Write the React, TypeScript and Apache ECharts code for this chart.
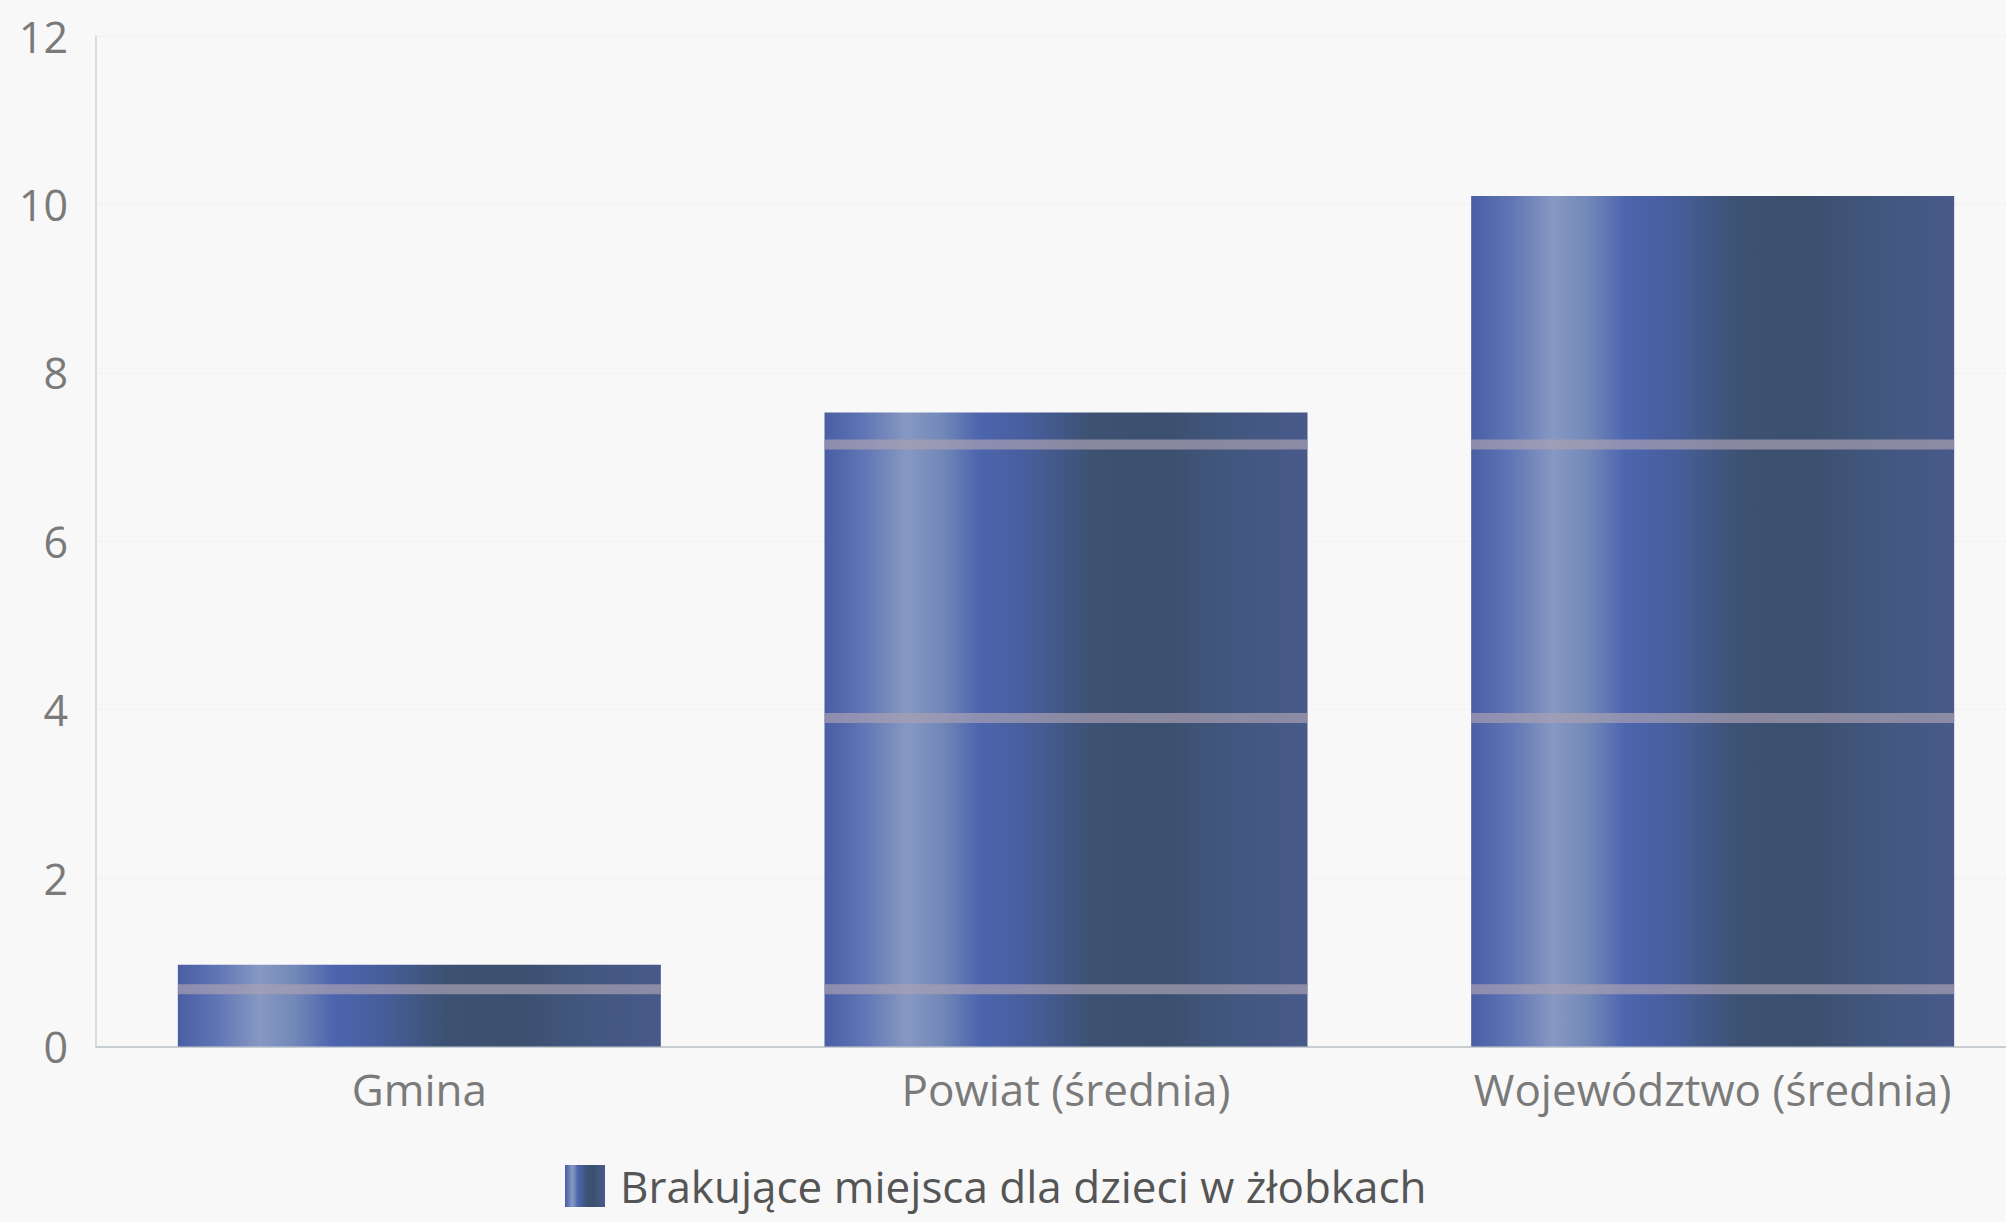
import React, { useEffect, useRef } from "react";
import * as echarts from "echarts";

const categories = ["Gmina", "Powiat (średnia)", "Województwo (średnia)"];
const seriesName = "Brakujące miejsca dla dzieci w żłobkach";
const values = [0.97, 7.53, 10.1];
const yTicks = [0, 2, 4, 6, 8, 10, 12];
// horizontal light stripes in the bar texture (value positions)
const stripeValues = [0.68, 3.9, 7.15];

const BAR_WIDTH = 483;
const FONT = "'Open Sans', 'Noto Sans', sans-serif";

const barGradient = new echarts.graphic.LinearGradient(0, 0, 1, 0, [
  { offset: 0, color: "#4a5ea4" },
  { offset: 0.08, color: "#5f75b4" },
  { offset: 0.17, color: "#8798c2" },
  { offset: 0.24, color: "#7389b9" },
  { offset: 0.32, color: "#4d65ae" },
  { offset: 0.42, color: "#475e9c" },
  { offset: 0.55, color: "#3d5273" },
  { offset: 0.7, color: "#3b506e" },
  { offset: 0.85, color: "#42577f" },
  { offset: 1, color: "#485a8a" },
]);

export default function App() {
  const ref = useRef<HTMLDivElement>(null);
  useEffect(() => {
    if (!ref.current) return;
    const chart = echarts.init(ref.current, undefined, { renderer: "svg" });
    const stripeData: number[][] = [];
    values.forEach((v, i) => {
      stripeValues.forEach((s) => {
        if (s < v) stripeData.push([i, s]);
      });
    });
    chart.setOption({
      animation: false,
      backgroundColor: "#f8f8f8",
      textStyle: { fontFamily: FONT },
      grid: { left: 96, right: 0, top: 36, bottom: 175.5, containLabel: false },
      legend: {
        data: [seriesName],
        left: 560,
        top: 1159,
        icon: "rect",
        itemWidth: 40,
        itemHeight: 42,
        itemGap: 16,
        textStyle: { fontSize: 44, color: "#555", fontFamily: FONT, padding: [0, 0, 0, 10] },
      },
      xAxis: {
        type: "category",
        data: categories,
        axisLine: { show: true, lineStyle: { color: "#c8cdd2", width: 2 } },
        axisTick: { show: false },
        axisLabel: { fontSize: 44, color: "#7a7a7a", margin: 20, fontFamily: FONT },
      },
      yAxis: {
        type: "value",
        min: 0,
        max: 12,
        interval: 2,
        axisLine: { show: true, lineStyle: { color: "#d8dde2", width: 2 } },
        axisTick: { show: false },
        axisLabel: { fontSize: 43, color: "#7a7a7a", margin: 28, fontFamily: FONT },
        splitLine: { show: true, lineStyle: { color: "#ececec", type: "dotted", width: 1 } },
      },
      series: [
        {
          name: seriesName,
          type: "bar",
          data: values,
          barWidth: BAR_WIDTH,
          itemStyle: { color: barGradient },
          z: 2,
        },
        {
          name: "stripes",
          type: "custom",
          data: stripeData,
          z: 3,
          silent: true,
          renderItem: (params: any, api: any) => {
            const p = api.coord([api.value(0), api.value(1)]);
            return {
              type: "rect",
              shape: { x: p[0] - BAR_WIDTH / 2, y: p[1] - 5, width: BAR_WIDTH, height: 10 },
              style: { fill: "rgba(170,160,178,0.7)" },
            };
          },
        },
      ],
    });
    return () => chart.dispose();
  }, []);
  return (
    <div
      ref={ref}
      style={{ position: "fixed", left: 0, top: 0, width: 2036, height: 1222 }}
    />
  );
}
